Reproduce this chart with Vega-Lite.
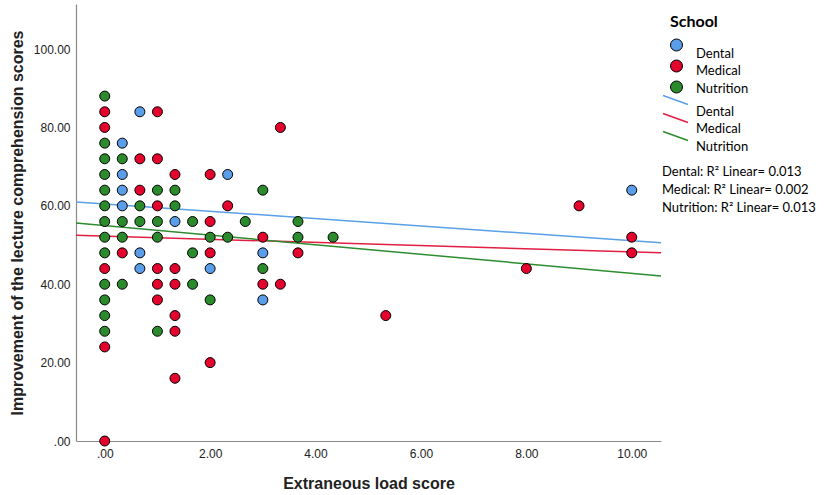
{
  "$schema": "https://vega.github.io/schema/vega-lite/v6.json",
  "autosize": {"type": "none"},
  "padding": {"left": 76, "top": 4, "right": 168, "bottom": 54},
  "width": 585,
  "height": 437,
  "background": "white",
  "datasets": {
    "points": [
      {"load": 0, "score": 88, "school": "Nutrition"},
      {"load": 0, "score": 84, "school": "Medical"},
      {"load": 0, "score": 80, "school": "Medical"},
      {"load": 0, "score": 76, "school": "Nutrition"},
      {"load": 0, "score": 72, "school": "Nutrition"},
      {"load": 0, "score": 68, "school": "Nutrition"},
      {"load": 0, "score": 64, "school": "Nutrition"},
      {"load": 0, "score": 60, "school": "Nutrition"},
      {"load": 0, "score": 56, "school": "Nutrition"},
      {"load": 0, "score": 52, "school": "Nutrition"},
      {"load": 0, "score": 48, "school": "Nutrition"},
      {"load": 0, "score": 44, "school": "Medical"},
      {"load": 0, "score": 40, "school": "Nutrition"},
      {"load": 0, "score": 36, "school": "Nutrition"},
      {"load": 0, "score": 32, "school": "Nutrition"},
      {"load": 0, "score": 28, "school": "Nutrition"},
      {"load": 0, "score": 24, "school": "Medical"},
      {"load": 0, "score": 0, "school": "Medical"},
      {"load": 0.333, "score": 76, "school": "Dental"},
      {"load": 0.333, "score": 72, "school": "Nutrition"},
      {"load": 0.333, "score": 68, "school": "Dental"},
      {"load": 0.333, "score": 64, "school": "Dental"},
      {"load": 0.333, "score": 60, "school": "Dental"},
      {"load": 0.333, "score": 56, "school": "Nutrition"},
      {"load": 0.333, "score": 52, "school": "Nutrition"},
      {"load": 0.333, "score": 48, "school": "Medical"},
      {"load": 0.333, "score": 40, "school": "Nutrition"},
      {"load": 0.667, "score": 84, "school": "Dental"},
      {"load": 0.667, "score": 72, "school": "Medical"},
      {"load": 0.667, "score": 64, "school": "Medical"},
      {"load": 0.667, "score": 60, "school": "Nutrition"},
      {"load": 0.667, "score": 56, "school": "Nutrition"},
      {"load": 0.667, "score": 48, "school": "Dental"},
      {"load": 0.667, "score": 44, "school": "Dental"},
      {"load": 1, "score": 84, "school": "Medical"},
      {"load": 1, "score": 72, "school": "Medical"},
      {"load": 1, "score": 64, "school": "Nutrition"},
      {"load": 1, "score": 60, "school": "Medical"},
      {"load": 1, "score": 56, "school": "Nutrition"},
      {"load": 1, "score": 52, "school": "Nutrition"},
      {"load": 1, "score": 44, "school": "Medical"},
      {"load": 1, "score": 40, "school": "Medical"},
      {"load": 1, "score": 36, "school": "Medical"},
      {"load": 1, "score": 28, "school": "Nutrition"},
      {"load": 1.333, "score": 68, "school": "Medical"},
      {"load": 1.333, "score": 64, "school": "Nutrition"},
      {"load": 1.333, "score": 60, "school": "Nutrition"},
      {"load": 1.333, "score": 56, "school": "Dental"},
      {"load": 1.333, "score": 44, "school": "Medical"},
      {"load": 1.333, "score": 40, "school": "Medical"},
      {"load": 1.333, "score": 32, "school": "Medical"},
      {"load": 1.333, "score": 28, "school": "Medical"},
      {"load": 1.333, "score": 16, "school": "Medical"},
      {"load": 1.667, "score": 56, "school": "Nutrition"},
      {"load": 1.667, "score": 48, "school": "Nutrition"},
      {"load": 1.667, "score": 40, "school": "Nutrition"},
      {"load": 2, "score": 68, "school": "Medical"},
      {"load": 2, "score": 56, "school": "Medical"},
      {"load": 2, "score": 52, "school": "Nutrition"},
      {"load": 2, "score": 48, "school": "Medical"},
      {"load": 2, "score": 44, "school": "Dental"},
      {"load": 2, "score": 36, "school": "Nutrition"},
      {"load": 2, "score": 20, "school": "Medical"},
      {"load": 2.333, "score": 68, "school": "Dental"},
      {"load": 2.333, "score": 60, "school": "Medical"},
      {"load": 2.333, "score": 52, "school": "Nutrition"},
      {"load": 2.667, "score": 56, "school": "Nutrition"},
      {"load": 3, "score": 64, "school": "Nutrition"},
      {"load": 3, "score": 52, "school": "Medical"},
      {"load": 3, "score": 48, "school": "Dental"},
      {"load": 3, "score": 44, "school": "Nutrition"},
      {"load": 3, "score": 40, "school": "Medical"},
      {"load": 3, "score": 36, "school": "Dental"},
      {"load": 3.333, "score": 80, "school": "Medical"},
      {"load": 3.333, "score": 40, "school": "Medical"},
      {"load": 3.667, "score": 56, "school": "Nutrition"},
      {"load": 3.667, "score": 52, "school": "Nutrition"},
      {"load": 3.667, "score": 48, "school": "Medical"},
      {"load": 4.333, "score": 52, "school": "Nutrition"},
      {"load": 5.333, "score": 32, "school": "Medical"},
      {"load": 8, "score": 44, "school": "Medical"},
      {"load": 9, "score": 60, "school": "Medical"},
      {"load": 10, "score": 64, "school": "Dental"},
      {"load": 10, "score": 52, "school": "Medical"},
      {"load": 10, "score": 48, "school": "Medical"}
    ],
    "fits": [
      {"load": -0.545, "score": 61.0, "fit": "Dental"},
      {"load": 10.555, "score": 50.6, "fit": "Dental"},
      {"load": -0.545, "score": 52.5, "fit": "Medical"},
      {"load": 10.555, "score": 48.0, "fit": "Medical"},
      {"load": -0.545, "score": 55.6, "fit": "Nutrition"},
      {"load": 10.555, "score": 42.1, "fit": "Nutrition"}
    ],
    "pointLabels": [
      {"name": "Dental "},
      {"name": "Medical "},
      {"name": "Nutrition "}
    ],
    "lineLabels": [
      {"name": "Dental  "},
      {"name": "Medical  "},
      {"name": "Nutrition  "}
    ],
    "r2": [
      {"r2": "Dental: R² Linear= 0.013"},
      {"r2": "Medical: R² Linear= 0.002"},
      {"r2": "Nutrition: R² Linear= 0.013"}
    ]
  },
  "encoding": {
    "x": {
      "field": "load",
      "type": "quantitative",
      "scale": {"domain": [-0.545, 10.555], "nice": false, "zero": false},
      "axis": {
        "title": "Extraneous load score",
        "values": [0, 2, 4, 6, 8, 10],
        "labelExpr": "datum.value == 0 ? '.00' : format(datum.value, '.2f')",
        "labelPadding": 7,
        "titlePadding": 16
      }
    },
    "y": {
      "field": "score",
      "type": "quantitative",
      "scale": {"domain": [0, 111.5], "nice": false},
      "axis": {
        "title": "Improvement of the lecture comprehension scores",
        "values": [0, 20, 40, 60, 80, 100],
        "labelExpr": "datum.value == 0 ? '.00' : format(datum.value, '.2f')",
        "labelPadding": 6,
        "titlePadding": 8
      }
    }
  },
  "layer": [
    {
      "data": {"name": "fits"},
      "mark": {"type": "line", "strokeWidth": 1.5, "clip": false},
      "encoding": {
        "stroke": {
          "field": "fit",
          "type": "nominal",
          "scale": {"range": ["#5B9FE6", "#E11F43", "#2D8C30"]},
          "legend": {
            "title": null,
            "orient": "none",
            "legendX": 587,
            "legendY": 90,
            "symbolType": "M-2.5,-0.9L2.5,0.9",
            "symbolSize": 100,
            "symbolStrokeWidth": 1.5,
            "symbolOffset": 6.5,
            "labelExpr": "''",
            "labelFontSize": 1,
            "labelOffset": 0,
            "rowPadding": 2
          }
        }
      }
    },
    {
      "data": {"name": "points"},
      "mark": {"type": "point", "shape": "circle", "filled": true, "opacity": 1, "size": 100, "stroke": "#000", "strokeWidth": 1, "clip": false},
      "encoding": {
        "color": {
          "field": "school",
          "type": "nominal",
          "scale": {"domain": ["Dental", "Medical", "Nutrition"], "range": ["#5A9DE8", "#E4032C", "#2B8A2B"]},
          "legend": {
            "title": "School",
            "orient": "none",
            "legendX": 594,
            "legendY": 10,
            "titleFont": "Lato",
            "titleFontSize": 16,
            "titleFontWeight": "bold",
            "titleColor": "#000",
            "titlePadding": 8.5,
            "symbolType": "circle",
            "symbolSize": 144,
            "symbolStrokeColor": "#000",
            "symbolStrokeWidth": 1,
            "symbolOffset": 0,
            "labelExpr": "''",
            "labelFontSize": 1,
            "labelOffset": 0,
            "rowPadding": 4
          }
        }
      }
    },
    {
      "data": {"name": "pointLabels"},
      "mark": {"type": "point", "size": 0, "filled": true},
      "encoding": {
        "x": {"datum": 0},
        "y": {"datum": 0},
        "fill": {
          "field": "name",
          "type": "nominal",
          "scale": {"domain": ["Dental ", "Medical ", "Nutrition "], "range": ["#ffffff", "#ffffff", "#ffffff"]},
          "legend": {
            "title": null,
            "orient": "none",
            "legendX": 607,
            "legendY": 43,
            "symbolSize": 1,
            "symbolOpacity": 0,
            "symbolStrokeWidth": 0,
            "labelOffset": 0,
            "labelFont": "Lato",
            "labelFontSize": 13,
            "labelColor": "#000",
            "rowPadding": 3.5
          }
        }
      }
    },
    {
      "data": {"name": "lineLabels"},
      "mark": {"type": "point", "size": 0, "filled": true},
      "encoding": {
        "x": {"datum": 0},
        "y": {"datum": 0},
        "strokeDash": {
          "field": "name",
          "type": "nominal",
          "scale": {"domain": ["Dental  ", "Medical  ", "Nutrition  "]},
          "legend": {
            "title": null,
            "orient": "none",
            "legendX": 607,
            "legendY": 101,
            "symbolSize": 1,
            "symbolOpacity": 0,
            "symbolStrokeWidth": 0,
            "labelOffset": 0,
            "labelFont": "Lato",
            "labelFontSize": 13,
            "labelColor": "#000",
            "rowPadding": 3.5
          }
        }
      }
    },
    {
      "data": {"name": "r2"},
      "mark": {"type": "point", "size": 0, "filled": true},
      "encoding": {
        "x": {"datum": 0},
        "y": {"datum": 0},
        "shape": {
          "field": "r2",
          "type": "nominal",
          "scale": {
            "domain": ["Dental: R² Linear= 0.013", "Medical: R² Linear= 0.002", "Nutrition: R² Linear= 0.013"],
            "range": ["circle", "circle", "circle"]
          },
          "legend": {
            "title": null,
            "orient": "none",
            "legendX": 573,
            "legendY": 161.5,
            "symbolSize": 1,
            "symbolOpacity": 0,
            "symbolStrokeWidth": 0,
            "labelOffset": 0,
            "labelFont": "Lato",
            "labelFontSize": 13,
            "labelColor": "#000",
            "labelLimit": 300,
            "rowPadding": 4
          }
        }
      }
    }
  ],
  "config": {
    "view": {"stroke": null},
    "axis": {
      "grid": false,
      "ticks": false,
      "domainColor": "#8a8a8a",
      "domainWidth": 1.2,
      "labelFont": "Liberation Sans",
      "labelFontSize": 12,
      "labelColor": "#222",
      "titleFont": "Liberation Sans",
      "titleFontSize": 16,
      "titleFontWeight": "bold",
      "titleColor": "#222"
    },
    "legend": {"padding": 0}
  }
}
